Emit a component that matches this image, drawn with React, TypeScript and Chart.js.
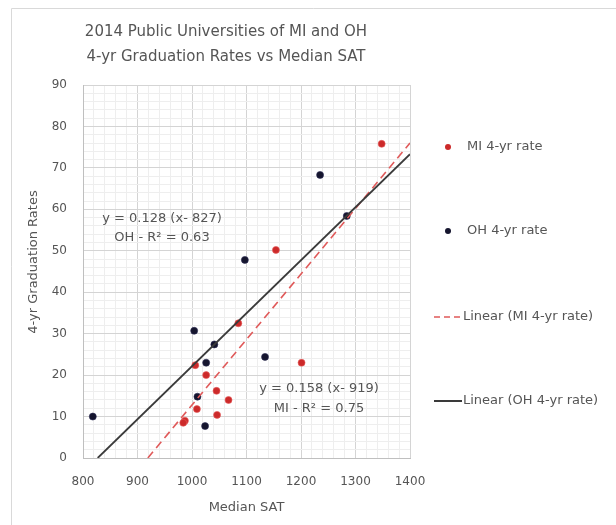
import React, { useEffect, useRef } from "react";
import { Chart, registerables } from "chart.js";

Chart.register(...registerables);

const TITLE_LINES = ["2014 Public Universities of MI and OH", "4-yr Graduation Rates vs Median SAT"];
const X_TITLE = "Median SAT";
const Y_TITLE = "4-yr Graduation Rates";

const MI_SAT = [1348, 1154, 1085, 1201, 1006, 1026, 1045, 1067, 1009, 1046, 987, 984];
const MI_RATE = [75.8, 50.2, 32.5, 23.0, 22.4, 20.0, 16.2, 14.0, 11.8, 10.4, 9.0, 8.5];
const OH_SAT = [1235, 1284, 1097, 1004, 1041, 1134, 1026, 1010, 1024, 818];
const OH_RATE = [68.3, 58.4, 47.8, 30.7, 27.4, 24.4, 23.0, 14.8, 7.7, 10.0];

const MI_TREND_SAT = [919, 1400];
const MI_TREND_RATE = [0, 76];
const OH_TREND_SAT = [827, 1400];
const OH_TREND_RATE = [0, 73.3];

const LEGEND_LABELS = ["MI 4-yr rate", "OH 4-yr rate", "Linear (MI 4-yr rate)", "Linear (OH 4-yr rate)"];
const OH_EQ = ["y = 0.128 (x- 827)", "OH - R\u00b2 = 0.63"];
const MI_EQ = ["y = 0.158 (x- 919)", "MI - R\u00b2 = 0.75"];

const RED = "#cc2a2a";
const NAVY = "#15152e";
const TEXT = "#555555";
const FONT = "'DejaVu Sans', 'Liberation Sans', sans-serif";

const pts = (xs: number[], ys: number[]) => xs.map((x, i) => ({ x, y: ys[i] }));

const decorPlugin = {
  id: "decor",
  afterDraw(chart: any) {
    const ctx = chart.ctx;
    ctx.save();
    // outer frame
    ctx.strokeStyle = "#d9d9d9";
    ctx.lineWidth = 1;
    ctx.beginPath();
    ctx.moveTo(11.5, 525);
    ctx.lineTo(11.5, 8.5);
    ctx.lineTo(616, 8.5);
    ctx.stroke();

    // title
    ctx.fillStyle = TEXT;
    ctx.font = `15px ${FONT}`;
    ctx.textAlign = "center";
    ctx.textBaseline = "middle";
    ctx.fillText(TITLE_LINES[0], 226, 32);
    ctx.fillText(TITLE_LINES[1], 226, 57);

    // y axis title
    ctx.save();
    ctx.translate(34, 262);
    ctx.rotate(-Math.PI / 2);
    ctx.font = `13px ${FONT}`;
    ctx.fillText(Y_TITLE, 0, 0);
    ctx.restore();

    // equations
    ctx.font = `13px ${FONT}`;
    ctx.fillStyle = TEXT;
    ctx.fillText(OH_EQ[0], 162, 219);
    ctx.fillText(OH_EQ[1], 162, 238);
    ctx.fillText(MI_EQ[0], 319, 389);
    ctx.fillText(MI_EQ[1], 319, 409);

    // legend
    ctx.textAlign = "left";
    ctx.font = `13px ${FONT}`;
    const ys = [147, 231, 317, 401];
    ctx.fillStyle = RED;
    ctx.beginPath();
    ctx.arc(448, ys[0], 3, 0, Math.PI * 2);
    ctx.fill();
    ctx.fillStyle = NAVY;
    ctx.beginPath();
    ctx.arc(448, ys[1], 3, 0, Math.PI * 2);
    ctx.fill();
    ctx.strokeStyle = "#e05a5a";
    ctx.lineWidth = 1.5;
    ctx.setLineDash([6, 4]);
    ctx.beginPath();
    ctx.moveTo(434, ys[2]);
    ctx.lineTo(462, ys[2]);
    ctx.stroke();
    ctx.setLineDash([]);
    ctx.strokeStyle = "#3a3a3a";
    ctx.lineWidth = 2;
    ctx.beginPath();
    ctx.moveTo(434, ys[3]);
    ctx.lineTo(462, ys[3]);
    ctx.stroke();
    ctx.fillStyle = TEXT;
    ctx.fillText(LEGEND_LABELS[0], 467, ys[0]);
    ctx.fillText(LEGEND_LABELS[1], 467, ys[1]);
    ctx.fillText(LEGEND_LABELS[2], 463, ys[2]);
    ctx.fillText(LEGEND_LABELS[3], 463, ys[3]);
    ctx.restore();
  },
};

export default function App() {
  const ref = useRef<HTMLCanvasElement | null>(null);
  useEffect(() => {
    if (!ref.current) return;
    const chart = new Chart(ref.current, {
      type: "scatter",
      data: {
        datasets: [
          {
            label: "MI 4-yr rate",
            data: pts(MI_SAT, MI_RATE),
            backgroundColor: RED,
            borderColor: "rgba(230,90,90,0.6)",
            borderWidth: 1,
            pointRadius: 3.5,
            order: 3,
          },
          {
            label: "OH 4-yr rate",
            data: pts(OH_SAT, OH_RATE),
            backgroundColor: NAVY,
            borderColor: "rgba(40,40,80,0.6)",
            borderWidth: 1,
            pointRadius: 3.5,
            order: 4,
          },
          {
            label: "Linear (MI 4-yr rate)",
            data: pts(MI_TREND_SAT, MI_TREND_RATE),
            showLine: true,
            borderColor: "#e05a5a",
            borderWidth: 1.6,
            borderDash: [8, 5],
            pointRadius: 0,
            order: 2,
          },
          {
            label: "Linear (OH 4-yr rate)",
            data: pts(OH_TREND_SAT, OH_TREND_RATE),
            showLine: true,
            borderColor: "#3a3a3a",
            borderWidth: 1.8,
            pointRadius: 0,
            order: 1,
          },
        ],
      },
      options: {
        animation: false,
        responsive: false,
        devicePixelRatio: 1,
        layout: { padding: { left: 20, top: 85, right: 206, bottom: 6 } },
        plugins: {
          legend: { display: false },
          title: { display: false },
          tooltip: { enabled: false },
        },
        scales: {
          x: {
            type: "linear",
            min: 800,
            max: 1400,
            afterFit: (s: any) => {
              s.height = 61;
            },
            ticks: {
              stepSize: 20,
              autoSkip: false,
              maxRotation: 0,
              maxTicksLimit: 100,
              padding: 17,
              color: TEXT,
              font: { family: FONT, size: 12 },
              callback: (v: any) => (Number(v) % 100 === 0 ? String(v) : ""),
            },
            grid: {
              drawTicks: false,
              color: (c: any) => (c.tick && c.tick.value % 100 === 0 ? "#d4d4d4" : "#eeeeee"),
            },
            border: { color: "#bfbfbf" },
            title: {
              display: true,
              text: X_TITLE,
              color: TEXT,
              font: { family: FONT, size: 13 },
              padding: { top: 0, bottom: 4 },
            },
          },
          y: {
            type: "linear",
            min: 0,
            max: 90,
            afterFit: (s: any) => {
              s.width = 63;
            },
            ticks: {
              stepSize: 2,
              autoSkip: false,
              maxTicksLimit: 100,
              padding: 16,
              color: TEXT,
              font: { family: FONT, size: 12 },
              callback: (v: any) => (Number(v) % 10 === 0 ? String(v) : ""),
            },
            grid: {
              drawTicks: false,
              color: (c: any) => (c.tick && c.tick.value % 10 === 0 ? "#d4d4d4" : "#eeeeee"),
            },
            border: { color: "#bfbfbf" },
            title: { display: false },
          },
        },
      },
      plugins: [decorPlugin],
    } as any);
    return () => chart.destroy();
  }, []);

  return (
    <div style={{ position: "absolute", left: 0, top: 0, width: 616, height: 525, background: "#fff" }}>
      <canvas ref={ref} width={616} height={525} />
    </div>
  );
}
